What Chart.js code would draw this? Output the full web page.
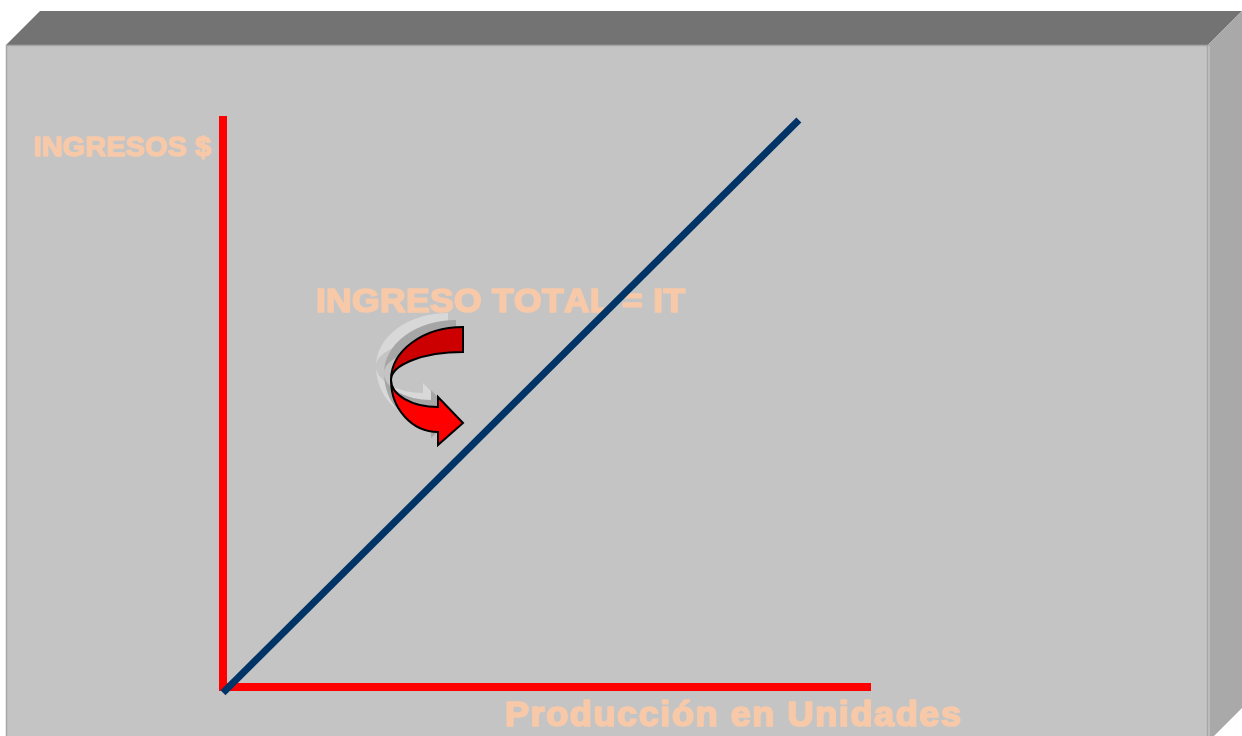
<!DOCTYPE html>
<html>
<head>
<meta charset="utf-8">
<script src="https://cdn.jsdelivr.net/npm/chart.js@4"></script>
<style>
  html, body { margin: 0; padding: 0; background: #ffffff; }
  canvas { display: block; }
</style>
</head>
<body>
<canvas id="ingresoChart" width="1242" height="736"></canvas>
<script>
// Data
const unidades = [0, 89];        // Producción en Unidades
const ingresos = [-1, 100];      // INGRESOS $
const yAxisLabel = "INGRESOS $";
const xAxisLabel = "Producción en Unidades";
const lineLabel = "INGRESO TOTAL = IT";

const peach = "#f8c9a8";

// 3D box drawn behind the chart
const boxBackground = {
  id: "boxBackground",
  beforeDraw(chart) {
    const ctx = chart.ctx;
    ctx.save();
    // top bevel
    ctx.fillStyle = "#737373";
    ctx.beginPath();
    ctx.moveTo(6, 45); ctx.lineTo(40, 11); ctx.lineTo(1242, 11); ctx.lineTo(1208, 45);
    ctx.closePath(); ctx.fill();
    // right side
    ctx.fillStyle = "#a9a9a9";
    ctx.beginPath();
    ctx.moveTo(1208, 45); ctx.lineTo(1242, 11); ctx.lineTo(1242, 708); ctx.lineTo(1214, 736); ctx.lineTo(1208, 736);
    ctx.closePath(); ctx.fill();
    // front face
    ctx.fillStyle = "#c4c4c4";
    ctx.fillRect(6, 45, 1202, 691);
    ctx.strokeStyle = "#a6a6a6";
    ctx.lineWidth = 1.5;
    ctx.beginPath();
    ctx.moveTo(6.5, 736); ctx.lineTo(6.5, 45.5); ctx.lineTo(1207.5, 45.5); ctx.lineTo(1207.5, 736);
    ctx.stroke();
    ctx.strokeStyle = "#d0d0d0";
    ctx.lineWidth = 1;
    ctx.beginPath();
    ctx.moveTo(1209, 46); ctx.lineTo(1209, 736);
    ctx.stroke();
    ctx.restore();
  }
};

// heavy text, spread letter by letter to the width seen in the picture
function fitText(ctx, text, x, baseline, capHeight, width, align) {
  const size = capHeight / 0.716;
  const heavy = size * 0.05;
  ctx.font = "bold " + size.toFixed(1) + "px 'Liberation Sans', Arial, sans-serif";
  const chars = Array.from(text);
  const widths = chars.map((c) => ctx.measureText(c).width);
  const natural = widths.reduce((s, v) => s + v, 0) + heavy;
  const k = Math.min(1.06, width / natural);
  const gap = (width - natural * k) / (chars.length - 1);
  const left = align === "right" ? x - width : x;
  ctx.save();
  ctx.textAlign = "left";
  ctx.textBaseline = "alphabetic";
  ctx.lineJoin = "round";
  ctx.lineWidth = heavy;
  ctx.strokeStyle = ctx.fillStyle;
  let cx = left + (heavy / 2) * k;
  chars.forEach((c, i) => {
    ctx.save();
    ctx.translate(cx, baseline);
    ctx.scale(k, 1);
    ctx.fillText(c, 0, 0);
    ctx.strokeText(c, 0, 0);
    ctx.restore();
    cx += widths[i] * k + gap;
  });
  ctx.restore();
}

// texts, drawn under the line
const labelsPlugin = {
  id: "labelsPlugin",
  beforeDatasetsDraw(chart) {
    const ctx = chart.ctx;
    const area = chart.chartArea;
    ctx.save();
    ctx.fillStyle = peach;
    fitText(ctx, yAxisLabel, area.left - 11, 156, 19.5, 179, "right");
    fitText(ctx, lineLabel, 315, 312, 24, 371, "left");
    fitText(ctx, xAxisLabel, 504, 726, 24.5, 458, "left");
    ctx.restore();
  }
};

// curved arrow pointing to the line
function arrowPaths(dx, dy) {
  const top = new Path2D();
  top.ellipse(463 + dx, 380 + dy, 72, 53, 0, -Math.PI / 2, Math.PI, true);
  top.ellipse(463 + dx, 380 + dy, 72, 28, 0, Math.PI, Math.PI * 1.5, false);
  top.closePath();
  const bottom = new Path2D();
  bottom.ellipse(438 + dx, 380 + dy, 47, 52, 0, Math.PI, Math.PI / 2, true);
  bottom.lineTo(438 + dx, 445 + dy);
  bottom.lineTo(463 + dx, 423 + dy);
  bottom.lineTo(438 + dx, 397 + dy);
  bottom.lineTo(438 + dx, 407 + dy);
  bottom.ellipse(438 + dx, 380 + dy, 47, 27, 0, Math.PI / 2, Math.PI, false);
  bottom.closePath();
  return { top, bottom };
}

const arrowPlugin = {
  id: "arrowPlugin",
  afterDraw(chart) {
    const ctx = chart.ctx;
    ctx.save();
    const light = arrowPaths(-15, -14);
    ctx.fillStyle = "#d8d8d8";
    ctx.fill(light.top); ctx.fill(light.bottom);
    const mid = arrowPaths(-7, -7);
    ctx.fillStyle = "#a6a6a6";
    ctx.fill(mid.top); ctx.fill(mid.bottom);
    const a = arrowPaths(0, 0);
    ctx.lineWidth = 2;
    ctx.strokeStyle = "#000000";
    ctx.lineJoin = "miter";
    ctx.fillStyle = "#ff0000";
    ctx.fill(a.bottom); ctx.stroke(a.bottom);
    ctx.fillStyle = "#cc0000";
    ctx.fill(a.top); ctx.stroke(a.top);
    ctx.restore();
  }
};

const points = unidades.map((u, i) => ({ x: u, y: ingresos[i] }));

new Chart(document.getElementById("ingresoChart"), {
  type: "line",
  data: {
    datasets: [
      {
        label: lineLabel,
        data: points,
        borderColor: "#003366",
        borderWidth: 7,
        borderCapStyle: "butt",
        pointRadius: 0,
        fill: false,
        tension: 0,
        clip: false,
      },
    ],
  },
  options: {
    responsive: false,
    animation: false,
    devicePixelRatio: 1,
    layout: { padding: { left: 223, top: 120, right: 372, bottom: 49 } },
    plugins: {
      legend: { display: false },
      tooltip: { enabled: false },
      title: { display: false },
    },
    scales: {
      x: {
        type: "linear",
        min: 0,
        max: 100,
        grid: { display: false, drawTicks: false },
        ticks: { display: false },
        border: { display: true, color: "#ff0000", width: 8 },
      },
      y: {
        type: "linear",
        min: 0,
        max: 100,
        grid: { display: false, drawTicks: false },
        ticks: { display: false },
        border: { display: true, color: "#ff0000", width: 8 },
      },
    },
  },
  plugins: [boxBackground, labelsPlugin, arrowPlugin],
});
</script>
</body>
</html>
